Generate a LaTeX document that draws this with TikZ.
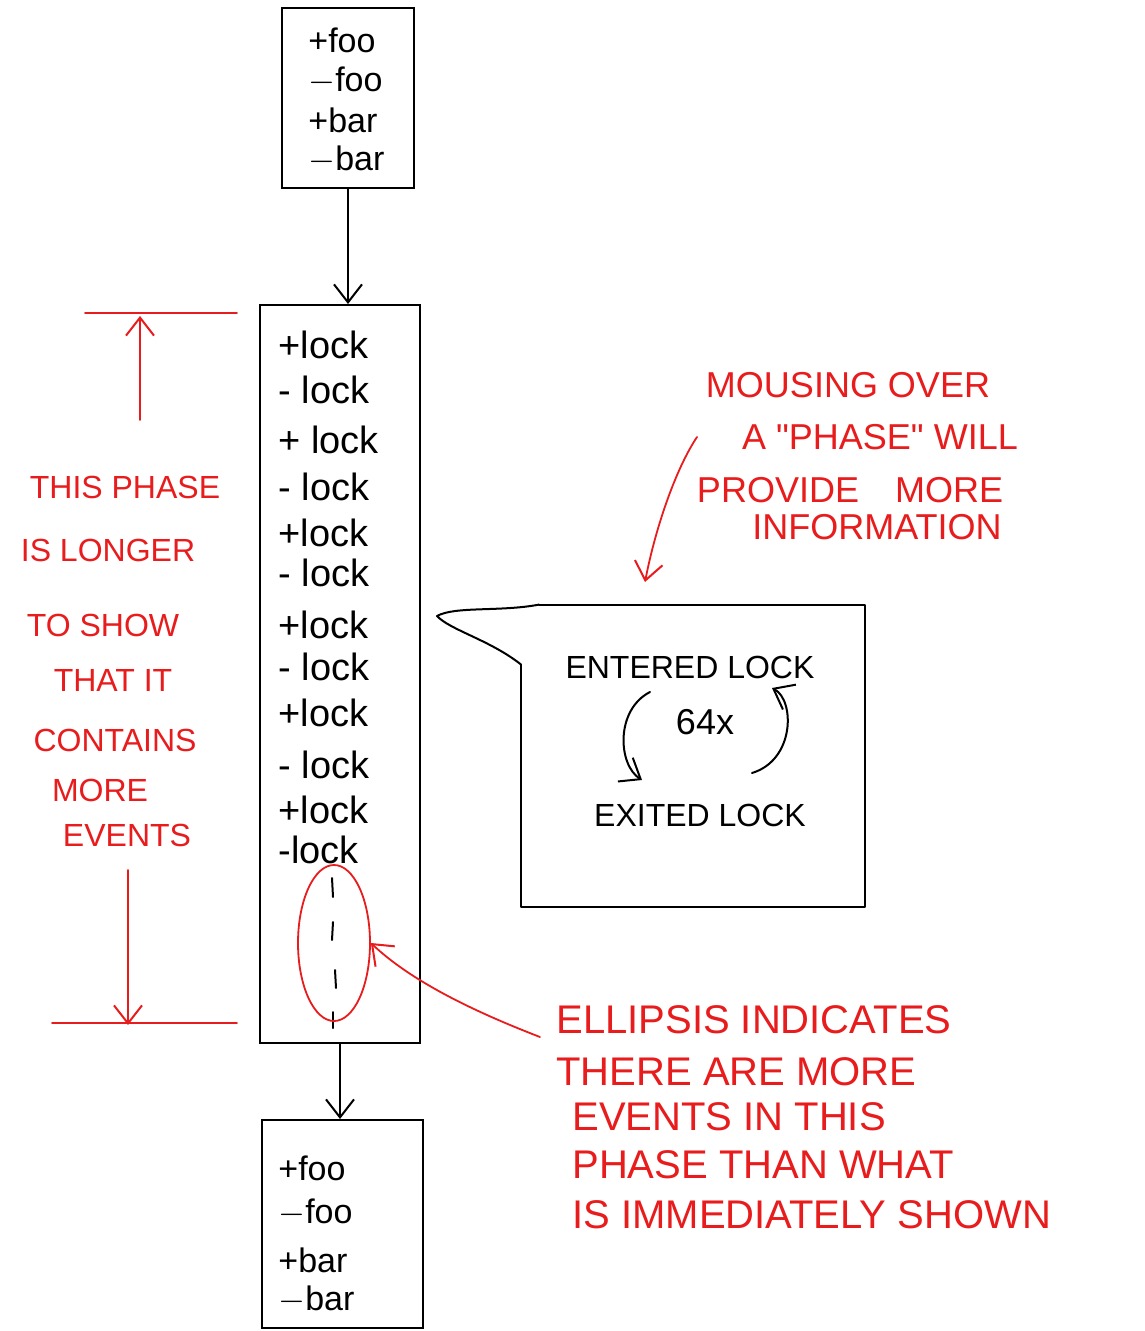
\documentclass[tikz,border=0pt]{standalone}
\usepackage{fontspec}
\setmainfont{Liberation Sans}
\usetikzlibrary{arrows.meta,calc,shapes.geometric}
\definecolor{pen}{RGB}{232,28,28}
\begin{document}
\begin{tikzpicture}[x=0.5pt,y=-0.5pt,
  ink/.style={line width=1pt,black,line cap=round,line join=round},
  redink/.style={line width=0.9pt,pen,line cap=round,line join=round},
  tip/.style={-{Straight Barb[length=9pt,width=14pt,line width=1pt]}},
  boxnode/.style={draw,line width=1pt,inner sep=0pt},
  ev/.style={font=\fontsize{19}{21}\selectfont,anchor=west,inner sep=0pt},
  fv/.style={font=\fontsize{17}{19}\selectfont,anchor=west,inner sep=0pt},
  lnote/.style={text=pen,font=\fontsize{16}{18}\selectfont,inner sep=0pt},
  tnote/.style={text=pen,font=\fontsize{18}{20}\selectfont,inner sep=0pt},
  bnote/.style={text=pen,font=\fontsize{20}{22}\selectfont,inner sep=0pt,anchor=west},
  pnote/.style={font=\fontsize{16}{18}\selectfont,inner sep=0pt}]
\useasboundingbox[fill=white] (0,0) rectangle (1144,1331);

% ---------- top box ----------
\node[boxnode,minimum width=66pt,minimum height=90pt] (top) at (348,98) {};
\node[fv] (t1) at (308,40) {+foo};
\node[fv] (t2) at (308,81) {$-$foo};
\node[fv] (t3) at (308,120) {+bar};
\node[fv] (t4) at (308,160) {$-$bar};

% ---------- middle box ----------
\node[boxnode,minimum width=80pt,minimum height=369pt] (mid) at (340,674) {};
\foreach \i/\y/\t in {1/345/+lock,2/390/- lock,3/440/+ lock,4/487/- lock,
                      5/533/+lock,6/573/- lock,7/625/+lock,8/667/- lock,
                      9/713/+lock,10/765/- lock,11/810/+lock,12/850/-lock}
  \node[ev] (m\i) at (278,\y) {\t};
% ellipsis marks
\draw[ink] (332,878) -- (333,897);
\draw[ink] (333,922) -- (332,940);
\draw[ink] (335,970) -- (336,988);
\draw[ink] (333,1012) -- (333,1028);

% ---------- bottom box ----------
\node[boxnode,minimum width=80.5pt,minimum height=104pt] (bot) at (342,1224) {};
\node[fv] (b1) at (278,1168) {+foo};
\node[fv] (b2) at (278,1213) {$-$foo};
\node[fv] (b3) at (278,1260) {+bar};
\node[fv] (b4) at (278,1300) {$-$bar};

% ---------- connectors ----------
\draw[ink,tip] (top.south) -- (top.south |- mid.north);
\draw[ink,tip] (mid.south) -- (mid.south |- bot.north);

% ---------- red ellipse ----------
\node[ellipse,draw=pen,line width=0.9pt,minimum width=36pt,minimum height=78pt,inner sep=0pt] (ell) at (334,943) {};

% ---------- left red notes ----------
\coordinate (lt1) at (85,313);
\coordinate (lt2) at (237,313);
\coordinate (lb1) at (52,1023);
\coordinate (lb2) at (237,1023);
\draw[redink] (lt1) -- (lt2);
\draw[redink] (lb1) -- (lb2);
\coordinate (ua) at (140,420);
\coordinate (ub) at (140,316);
\draw[redink,tip] (ua) -- (ub);
\coordinate (da) at (128,870);
\coordinate (db) at (128,1025);
\draw[redink,tip] (da) -- (db);
\node[lnote] (n1) at (125,487) {THIS PHASE};
\node[lnote] (n2) at (108,550) {IS LONGER};
\node[lnote] (n3) at (103,625) {TO SHOW};
\node[lnote] (n4) at (113,680) {THAT IT};
\node[lnote] (n5) at (115,740) {CONTAINS};
\node[lnote] (n6) at (100,790) {MORE};
\node[lnote] (n7) at (127,835) {EVENTS};

% ---------- top right note ----------
\node[tnote] (r1) at (848,385) {MOUSING OVER};
\node[tnote] (r2) at (880,437) {A \textquotedbl PHASE\textquotedbl\ WILL};
\node[tnote] (r3) at (850,490) {PROVIDE\quad MORE};
\node[tnote] (r4) at (877,527) {INFORMATION};
\coordinate (ra) at (697,437);
\coordinate (rb) at (645,582);
\draw[redink,tip] (ra) .. controls (675,470) and (655,530) .. (rb);

% ---------- popup ----------
\node[minimum width=171.5pt,minimum height=151pt,inner sep=0pt] (pop) at (693,756) {};
\coordinate (tail) at (437,616);
\draw[ink] ($(pop.north west)+(0,60)$) -- (pop.south west) -- (pop.south east)
  -- (pop.north east) -- ($(pop.north west)+(18,0)$);
\draw[ink] ($(pop.north west)+(18,0)$) .. controls (500,612) and (455,606) .. (tail)
  .. controls (450,630) and (490,640) .. ($(pop.north west)+(0,60)$);
\node[pnote] (p1) at (690,667) {ENTERED LOCK};
\node[pnote,font=\fontsize{18}{20}\selectfont] (p2) at (705,722) {64x};
\node[pnote] (p3) at (700,815) {EXITED LOCK};
\coordinate (c1) at (650,692);
\coordinate (c2) at (642,780);
\draw[ink,tip] (c1) .. controls (615,710) and (618,765) .. (c2);
\coordinate (c3) at (752,773);
\coordinate (c4) at (772,688);
\draw[ink,tip] (c3) .. controls (795,760) and (795,700) .. (c4);

% ---------- bottom right note ----------
\node[bnote] (e1) at (556,1020) {ELLIPSIS INDICATES};
\node[bnote] (e2) at (556,1072) {THERE ARE MORE};
\node[bnote] (e3) at (572,1117) {EVENTS IN THIS};
\node[bnote] (e4) at (572,1165) {PHASE THAN WHAT};
\node[bnote] (e5) at (572,1215) {IS IMMEDIATELY SHOWN};
\coordinate (ea) at (540,1037);
\draw[redink,tip] (ea) .. controls (470,1010) and (410,980) .. (ell.east);
\end{tikzpicture}
\end{document}
